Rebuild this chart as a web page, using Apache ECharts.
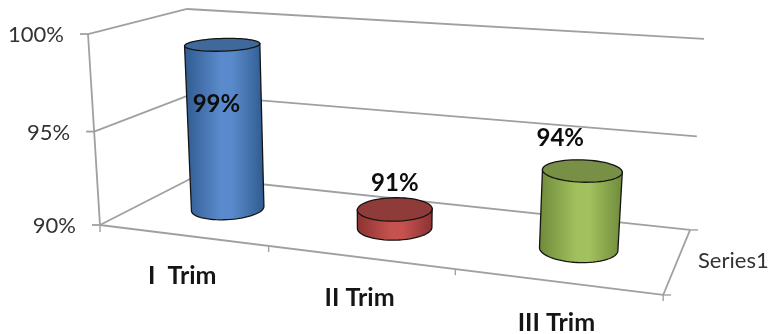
<!DOCTYPE html>
<html>
<head>
<meta charset="utf-8">
<style>html,body{margin:0;padding:0;background:#fff}#chart{width:771px;height:334px}</style>
<script src="https://cdn.jsdelivr.net/npm/echarts@6/dist/echarts.min.js"></script>
</head>
<body>
<div id="chart"></div>
<script>
const categories = ['I  Trim', 'II Trim', 'III Trim'];
const seriesName = 'Series1';
const values = [99, 91, 94];
const valueTicks = [90, 95, 100];

const palette = [
  { mid: '#5a8acb', edge: '#2f5a8f', cap: '#40699b' },
  { mid: '#c6524f', edge: '#8a3331', cap: '#8f3b39' },
  { mid: '#a2c15e', edge: '#6f8a3a', cap: '#788f46' }
];
// Placement of the value labels relative to each cylinder's top centre
const labelShift = [[-6, 60], [0, -26], [-22, -32]];

const FONT = 'Lato, "Open Sans", sans-serif';
const FRAME = '#a0a0a0';
const RADIUS_U = 0.066, RADIUS_D = 0.21, SEGMENTS = 64;

// Perspective camera: u along categories, d into the depth axis, v up the value axis
function project(u, d, v) {
  const w = -0.145 * u + 0.143 * d - 0.042 * v + 1;
  return [
    (467 * u + 121.7 * d - 15.7 * v + 100) / w,
    (27.2 * u - 22.7 * d - 192.4 * v + 225) / w
  ];
}

function toUnit(rect, pt) {
  return [(pt[0] - rect.x) / rect.width, (rect.y + rect.height - pt[1]) / rect.height];
}

function line(a, b, width) {
  return {
    type: 'line', silent: true,
    shape: { x1: a[0], y1: a[1], x2: b[0], y2: b[1] },
    style: { stroke: FRAME, lineWidth: width || 1.8 }
  };
}

function text(str, x, y, font, fill, align) {
  return {
    type: 'text', silent: true,
    style: { text: str, x: x, y: y, font: font, fill: fill, textAlign: align || 'center', textVerticalAlign: 'middle' }
  };
}

function renderFrame(params, api) {
  const rect = params.coordSys;
  const kids = [];
  const unitV = t => toUnit(rect, api.coord([0, t]))[1];

  valueTicks.forEach(t => {
    const v = unitV(t);
    const front = project(0, 0, v), back = project(0, 1, v), right = project(1, 1, v);
    kids.push(line(front, back), line(back, right), line(front, [front[0] - 8, front[1]]));
    kids.push(text(t + '%', front[0] - 24, front[1] + 1, '22px ' + FONT, '#333333', 'right'));
  });

  kids.push(line(project(0, 0, 0), project(0, 0, 1)));
  kids.push(line(project(0, 0, 0), project(1, 0, 0)));
  kids.push(line(project(1, 0, 0), project(1, 1, 0)));

  categories.forEach((name, i) => {
    const tick = project((i + 1) / 3, 0, 0);
    kids.push(line(tick, [tick[0], tick[1] + 6], 1.4));
    const mid = project(toUnit(rect, api.coord([i, 90]))[0], 0, 0);
    kids.push(text(name, mid[0], mid[1] + 41, 'bold 25px ' + FONT, '#151515'));
  });
  const origin = project(0, 0, 0);
  kids.push(line(origin, [origin[0], origin[1] + 7], 1.4));

  const fr = project(1, 0, 0), br = project(1, 1, 0);
  kids.push(line(fr, [fr[0] + 8, fr[1]], 1.4), line(br, [br[0] + 8, br[1]], 1.4));
  kids.push(text(seriesName, 698, 261, '22px ' + FONT, '#333333', 'left'));

  return { type: 'group', children: kids };
}

function renderCylinder(params, api) {
  const rect = params.coordSys;
  const i = api.value(0);
  const val = api.value(1);
  const base = toUnit(rect, api.coord([i, 90]));
  const top = toUnit(rect, api.coord([i, val]));
  const colors = palette[i];

  const ring = v => {
    const pts = [];
    for (let k = 0; k < SEGMENTS; k++) {
      const t = (k / SEGMENTS) * Math.PI * 2;
      pts.push(project(base[0] + RADIUS_U * Math.cos(t), 0.5 + RADIUS_D * Math.sin(t), v));
    }
    return pts;
  };
  const low = ring(base[1]);
  const high = ring(top[1]);

  const extreme = (pts, sign) => pts.reduce((best, p, k) => (sign * p[0] > sign * pts[best][0] ? k : best), 0);
  const lowL = extreme(low, -1), lowR = extreme(low, 1);
  const highL = extreme(high, -1), highR = extreme(high, 1);

  // Walk the nearer half of the base ring from its left tangent to its right tangent
  const arc = [];
  for (let k = lowL; ; k = (k + 1) % SEGMENTS) {
    arc.push(low[k]);
    if (k === lowR) break;
  }
  const body = [high[highL]].concat(arc, [high[highR]]);
  const outline = '#141414';

  const centre = project(base[0], 0.5, top[1]);
  const shift = labelShift[i];

  return {
    type: 'group',
    children: [
      {
        type: 'polygon', silent: true,
        shape: { points: body },
        style: {
          stroke: outline, lineWidth: 1.3,
          fill: {
            type: 'linear', x: 0, y: 0, x2: 1, y2: 0,
            colorStops: [
              { offset: 0, color: colors.edge },
              { offset: 0.45, color: colors.mid },
              { offset: 0.6, color: colors.mid },
              { offset: 1, color: colors.edge }
            ]
          }
        }
      },
      {
        type: 'polygon', silent: true,
        shape: { points: high },
        style: { fill: colors.cap, stroke: outline, lineWidth: 1.3 }
      },
      text(val + '%', centre[0] + shift[0], centre[1] + shift[1], 'bold 24px ' + FONT, '#0d0d0d')
    ]
  };
}

const chart = echarts.init(document.getElementById('chart'), null, { renderer: 'canvas' });
chart.setOption({
  animation: false,
  backgroundColor: '#ffffff',
  grid: { left: 100, top: 34, width: 563, height: 191 },
  xAxis: { type: 'category', data: categories, show: false },
  yAxis: { type: 'value', min: 90, max: 100, interval: 5, show: false },
  series: [
    { type: 'custom', name: 'frame', clip: false, data: [[0, 90]], encode: { x: 0, y: 1 }, renderItem: renderFrame, z: 1 },
    {
      type: 'custom', name: seriesName, clip: false, encode: { x: 0, y: 1 }, renderItem: renderCylinder, z: 2,
      data: values.map((v, i) => [i, v])
    }
  ]
});
</script>
</body>
</html>
